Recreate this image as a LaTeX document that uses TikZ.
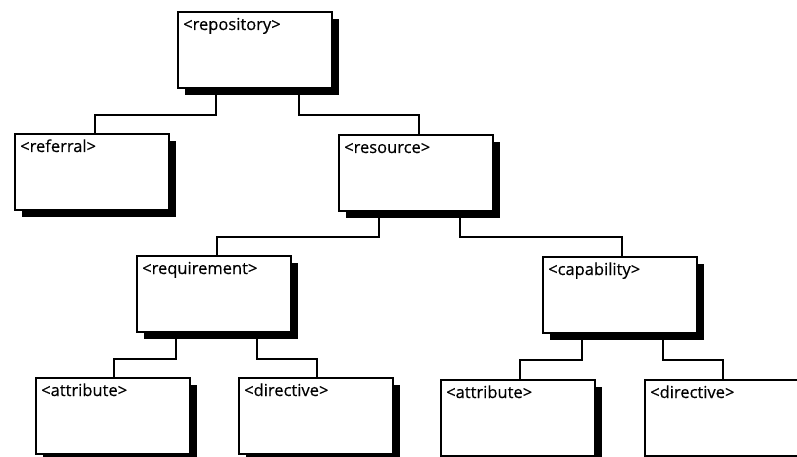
\documentclass[tikz,border=0pt]{standalone}
\usepackage{fontspec}
\setmainfont{Open Sans}[FakeBold=0.4]
\usetikzlibrary{calc,shadows}
\begin{document}
\begin{tikzpicture}[x=1pt,y=-1pt,
  box/.style={draw, line width=2pt, fill=white, minimum width=154pt, minimum height=76pt,
    inner sep=0pt, anchor=north west,
    drop shadow={shadow xshift=7pt, shadow yshift=-7pt, fill=black, opacity=1}},
  lbl/.style={font=\fontsize{16.5}{18}\selectfont, anchor=base west, inner sep=0pt},
  conn/.style={line width=2pt}]
\useasboundingbox (0,0) rectangle (797,457);

\node[box] (rep) at (177,11) {};
\node[box] (ref) at (14,133) {};
\node[box] (res) at (338,134) {};
\node[box] (req) at (136,255) {};
\node[box] (cap) at (542,256) {};
\node[box] (att1) at (35,377) {};
\node[box] (dir1) at (238,377) {};
\node[box] (att2) at (440,379) {};
\node[box] (dir2) at (644,379) {};

\foreach \n/\t in {rep/<repository>, ref/<referral>, res/<resource>, req/<requirement>,
  cap/<capability>, att1/<attribute>, dir1/<directive>, att2/<attribute>, dir2/<directive>}
  \node[lbl] (\n-t) at ($(\n.north west)+(6,19)$) {\t};

\draw[conn] ($(rep.south west)+(39,0)$) -- ++(0,26) -| ($(ref.north west)+(81,0)$);
\draw[conn] ($(rep.south west)+(122,0)$) -- ++(0,26) -| ($(res.north west)+(81,0)$);
\draw[conn] ($(res.south west)+(41,0)$) -- ++(0,25) -| ($(req.north west)+(81,0)$);
\draw[conn] ($(res.south west)+(122,0)$) -- ++(0,25) -| ($(cap.north west)+(80,0)$);
\draw[conn] ($(req.south west)+(40,0)$) -- ++(0,26) -| ($(att1.north west)+(79,0)$);
\draw[conn] ($(req.south west)+(121,0)$) -- ++(0,26) -| ($(dir1.north west)+(79,0)$);
\draw[conn] ($(cap.south west)+(40,0)$) -- ++(0,26) -| ($(att2.north west)+(80,0)$);
\draw[conn] ($(cap.south west)+(121,0)$) -- ++(0,26) -| ($(dir2.north west)+(79,0)$);
\end{tikzpicture}
\end{document}
